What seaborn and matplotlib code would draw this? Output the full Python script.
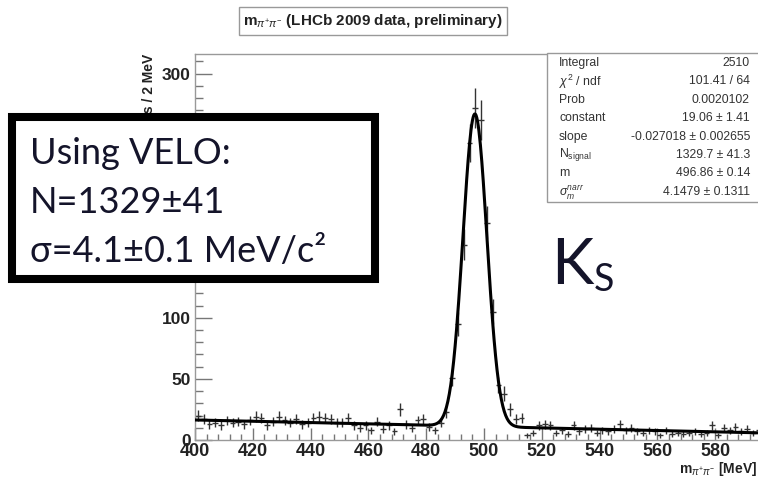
import numpy as np
import pandas as pd
import matplotlib
matplotlib.use("Agg")
import matplotlib.pyplot as plt
from matplotlib.patches import Rectangle
from matplotlib.ticker import MultipleLocator, FuncFormatter
import seaborn as sns

# ---------------- data ----------------
bin_low = 400.0
bin_width = 2.0
counts = [
    20, 17, 13, 14, 12, 16, 14, 15, 13, 16,
    19, 18, 12, 15, 19, 16, 14, 17, 13, 14,
    18, 19, 18, 17, 14, 14, 18, 12, 10, 12,
    8, 15, 9, 12, 7, 25, 13, 10, 16, 17,
    11, 8, 14, 23, 51, 95, 160, 243, 272, 262,
    178, 105, 45, 38, 25, 17, 18,
    4, 6, 12, 13, 12, 6, 8, 5, 12, 7,
    9, 10, 6, 8, 7, 9, 13, 8, 10, 7,
    6, 8, 7, 4, 8, 5, 6, 5, 6, 7,
    5, 6, 12, 4, 10, 8, 11, 7, 9, 6,
    8, 5, 7,
]

# fit parameters (signal from stats box, background)
n_signal = 1329.7
mass = 496.86
sigma = 4.1479
bkg_at_400 = 16.4
bkg_slope = -0.054

stat_names = ["Integral", r"$\chi^{2}$ / ndf", "Prob", "constant", "slope",
              r"N$_{\mathregular{signal}}$", "m", r"$\sigma_{m}^{narr}$"]
stat_values = ["2510", "101.41 / 64", "0.0020102", "19.06 \u00b1 1.41",
               "-0.027018 \u00b1 0.002655", "1329.7 \u00b1 41.3",
               "496.86 \u00b1 0.14", "4.1479 \u00b1 0.1311"]

title = r"m$_{\pi^{+}\pi^{-}}$ (LHCb 2009 data, preliminary)"
xlabel = r"m$_{\pi^{+}\pi^{-}}$ [MeV]"
ylabel = "Events / 2 MeV"
box_lines = ["Using VELO:", "N=1329\u00b141", "\u03c3=4.1\u00b10.1 MeV/c\u00b2"]
hidden_ylabels = [150, 200, 250]   # covered by the overlay box
hidden_xlabels = [600]             # outside the cropped picture

# ---------------- style ----------------
sns.set_theme(style="ticks")
plt.rcParams["font.family"] = ["Liberation Sans", "DejaVu Sans"]
plt.rcParams["mathtext.fontset"] = "custom"
plt.rcParams["mathtext.rm"] = "Liberation Sans"
plt.rcParams["mathtext.it"] = "Liberation Sans:italic"
plt.rcParams["mathtext.bf"] = "Liberation Sans:bold"

W, H = 758, 482
fig = plt.figure(figsize=(W / 100, H / 100), dpi=100)
fig.patch.set_facecolor("white")

def fx(px):
    return px / W

def fy(py):
    return 1 - py / H

ax = fig.add_axes([fx(195), fy(440), 578 / W, 386 / H])
ax.set_facecolor("white")

counts_arr = np.array(counts, dtype=float)
centers = bin_low + bin_width * (np.arange(len(counts_arr)) + 0.5)
df = pd.DataFrame({"x": centers, "y": counts_arr})

ax.errorbar(df["x"], df["y"], xerr=bin_width / 2, yerr=np.sqrt(df["y"]),
            fmt="none", ecolor="#333333", elinewidth=1.0, capsize=0, zorder=2)

xf = np.linspace(400, 600, 801)
yf = (bkg_at_400 + bkg_slope * (xf - 400)
      + n_signal * bin_width / (np.sqrt(2 * np.pi) * sigma)
      * np.exp(-0.5 * ((xf - mass) / sigma) ** 2))
sns.lineplot(x=xf, y=yf, color="black", linewidth=2.2, ax=ax, zorder=3)

ax.set_xlim(400, 600)
ax.set_ylim(0, 316)
ax.xaxis.set_major_locator(MultipleLocator(20))
ax.xaxis.set_minor_locator(MultipleLocator(4))
ax.yaxis.set_major_locator(MultipleLocator(50))
ax.yaxis.set_minor_locator(MultipleLocator(10))
ax.xaxis.set_major_formatter(FuncFormatter(
    lambda v, p: "" if int(round(v)) in hidden_xlabels else f"{v:.0f}"))
ax.yaxis.set_major_formatter(FuncFormatter(
    lambda v, p: "" if int(round(v)) in hidden_ylabels else f"{v:.0f}"))
ax.tick_params(axis="both", which="both", direction="in", colors="#777777",
               labelcolor="#222222", top=False, right=False)
ax.tick_params(axis="x", which="major", length=9, width=1, pad=2, labelsize=13)
ax.tick_params(axis="x", which="minor", length=4.5, width=1)
ax.tick_params(axis="y", which="major", length=12, width=1, pad=3, labelsize=12.5)
ax.tick_params(axis="y", which="minor", length=6, width=1)
for lab in ax.get_xticklabels() + ax.get_yticklabels():
    lab.set_fontweight("bold")
for s in ax.spines.values():
    s.set_color("#999999")
    s.set_linewidth(1)

ax.set_xlabel(xlabel, fontsize=10, fontweight="bold", color="#222222",
              ha="right")
ax.xaxis.set_label_coords((757 - 195) / 578, -0.052)
ax.set_ylabel(ylabel, loc="top", fontsize=10, fontweight="bold",
              color="#222222", labelpad=4)

# title box
fig.text(fx(373), fy(21), title, ha="center", va="center", fontsize=11,
         fontweight="bold", color="#222222",
         bbox=dict(boxstyle="square,pad=0.3", fc="white", ec="#999999", lw=1))

# stats box
fig.add_artist(Rectangle((fx(547), fy(202)), (790 - 547) / W, (202 - 53) / H,
                         transform=fig.transFigure, fc="white", ec="#999999",
                         lw=1, zorder=4))
for i, (nm, val) in enumerate(zip(stat_names, stat_values)):
    yy = fy(63 + i * 18.4)
    fig.text(fx(559), yy, nm, ha="left", va="center", fontsize=8.8,
             color="#333333", zorder=5)
    fig.text(fx(750), yy, val, ha="right", va="center", fontsize=8.8,
             color="#333333", zorder=5)

# overlay box
fig.add_artist(Rectangle((fx(12), fy(279)), (375 - 12) / W, (279 - 117) / H,
                         transform=fig.transFigure, fc="white", ec="black",
                         lw=5.8, zorder=6))
for i, line in enumerate(box_lines):
    fig.text(fx(30), fy(153 + i * 49.5), line, ha="left", va="center",
             fontsize=26, color="#14142a", family=["Lato", "DejaVu Sans"],
             zorder=7)

# K_S label
fig.text(fx(551), fy(284), "K", ha="left", va="baseline", fontsize=46,
         color="#14142a", family=["Lato", "DejaVu Sans"], zorder=7)
fig.text(fx(594), fy(291), "S", ha="left", va="baseline", fontsize=27,
         color="#14142a", family=["Lato", "DejaVu Sans"], zorder=7)

fig.savefig("out.png", dpi=100, facecolor="white")
